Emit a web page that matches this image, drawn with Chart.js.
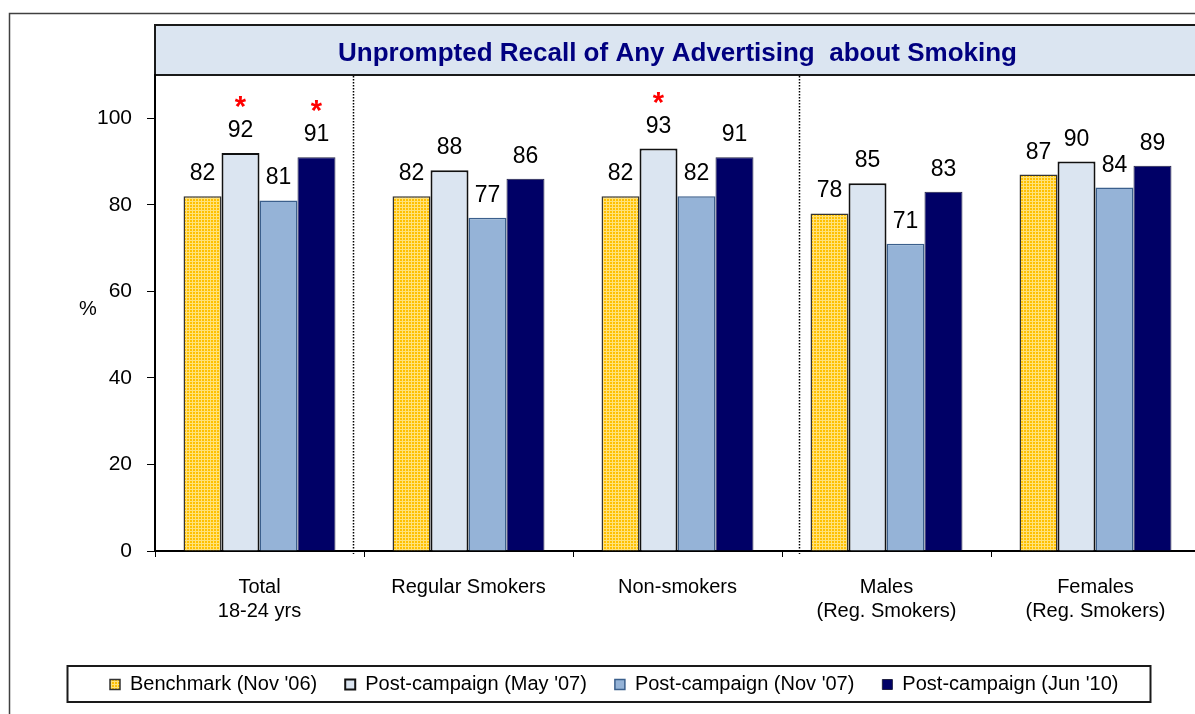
<!DOCTYPE html>
<html>
<head>
<meta charset="utf-8">
<title>Unprompted Recall of Any Advertising about Smoking</title>
<script src="https://cdn.jsdelivr.net/npm/chart.js@4.4.0/dist/chart.umd.min.js"></script>
<style>
    html, body { margin: 0; padding: 0; background: #fff; overflow: hidden; }
    canvas { display: block; }
</style>
</head>
<body>
<canvas id="recallChart" width="1215" height="714"></canvas>
<script>
// --- data ---
const categories = [
    ['Total', '18-24 yrs'],
    'Regular Smokers',
    'Non-smokers',
    ['Males', '(Reg. Smokers)'],
    ['Females', '(Reg. Smokers)']
];
const seriesNames = ["Benchmark (Nov '06)", "Post-campaign (May '07)", "Post-campaign (Nov '07)", "Post-campaign (Jun '10)"];
const benchmarkNov06 = [82, 82, 82, 78, 87];
const postMay07 = [92, 88, 93, 85, 90];
const postNov07 = [81, 77, 82, 71, 84];
const postJun10 = [91, 86, 91, 83, 89];
// significant change flags (red asterisk over the bar)
const sigMay07 = [true, false, true, false, false];
const sigJun10 = [true, false, false, false, false];
const yTicks = [0, 20, 40, 60, 80, 100];
const yMax = 110;

const FONT = '"Liberation Sans", Arial, sans-serif';
const TITLE = 'Unprompted Recall of Any Advertising  about Smoking';

// dotted group separators, in category widths from the y axis
const separatorAt = [0.947, 3.08];

Chart.defaults.font.family = FONT;
Chart.defaults.color = '#000';

// yellow cross-hatch fill for the benchmark bars
function hatchPattern() {
    const c = document.createElement('canvas');
    c.width = 3; c.height = 3;
    const g = c.getContext('2d');
    g.fillStyle = '#ffc000';
    g.fillRect(0, 0, 3, 3);
    g.fillStyle = '#ffe27a';
    g.fillRect(0, 0, 3, 1);
    g.fillRect(0, 0, 1, 3);
    return document.getElementById('recallChart').getContext('2d').createPattern(c, 'repeat');
}

const sigFlags = [null, sigMay07, null, sigJun10];

// title band, outer frame
const framePlugin = {
    id: 'frame',
    beforeDraw(chart) {
        const { ctx, chartArea } = chart;
        ctx.save();
        ctx.strokeStyle = '#404040';
        ctx.lineWidth = 1.5;
        ctx.strokeRect(9.5, 13.5, chart.width + 20, chart.height + 20);

        const top = 25;
        ctx.fillStyle = '#dbe5f1';
        ctx.fillRect(chartArea.left, top, chart.width, chartArea.top - top);
        ctx.strokeStyle = '#1a1a1a';
        ctx.lineWidth = 2;
        ctx.strokeRect(chartArea.left, top, chart.width, chartArea.top - top);
        ctx.restore();
    },
    afterLayout(chart) {
        // nudge legend row so it starts where the boxed legend sits
        const lg = chart.legend;
        if (!lg || !lg.lineWidths) return;
        const start = (lg.left + lg.options.labels.padding + lg.right - lg.lineWidths[0]) / 2;
        const d = 110 - start;
        lg.left += d;
        lg.right += d;
    },
    afterDraw(chart) {
        const { ctx, chartArea, scales } = chart;
        ctx.save();

        // title
        ctx.font = `bold 26px ${FONT}`;
        ctx.fillStyle = '#000080';
        ctx.textAlign = 'center';
        ctx.textBaseline = 'alphabetic';
        ctx.fillText(TITLE, (chartArea.left + chartArea.right) / 2, 61);

        // y unit
        ctx.font = `20px ${FONT}`;
        ctx.fillStyle = '#000';
        ctx.fillText('%', 88, 315);

        // dotted separators
        const xs = scales.x;
        const catW = xs.width / categories.length;
        ctx.strokeStyle = '#000';
        ctx.lineWidth = 1.5;
        ctx.setLineDash([1.5, 1.5]);
        separatorAt.forEach(f => {
            const x = Math.round(xs.left + f * catW) + 0.5;
            ctx.beginPath();
            ctx.moveTo(x, chartArea.top + 1);
            ctx.lineTo(x, chartArea.bottom + 3);
            ctx.stroke();
        });
        ctx.setLineDash([]);

        // legend frame
        const hb = chart.legend.legendHitBoxes;
        if (hb && hb.length) {
            const first = hb[0];
            const last = hb[hb.length - 1];
            const cy = first.top + first.height / 2;
            const l = Math.round(first.left - 43) + 0.5;
            const r = Math.round(last.left + last.width + 31) + 0.5;
            ctx.strokeStyle = '#1a1a1a';
            ctx.lineWidth = 2;
            ctx.strokeRect(l, Math.round(cy - 19), r - l, 36);
        }
        ctx.restore();
    }
};

// value labels and significance asterisks above bars
const labelPlugin = {
    id: 'valueLabels',
    afterDatasetsDraw(chart) {
        const ctx = chart.ctx;
        ctx.save();
        ctx.textAlign = 'center';
        ctx.textBaseline = 'alphabetic';
        chart.data.datasets.forEach((ds, i) => {
            const meta = chart.getDatasetMeta(i);
            meta.data.forEach((bar, j) => {
                ctx.font = `23px ${FONT}`;
                ctx.fillStyle = '#000';
                ctx.fillText(String(ds.data[j]), bar.x, bar.y - 16);
                if (sigFlags[i] && sigFlags[i][j]) {
                    ctx.font = `bold 29px ${FONT}`;
                    ctx.fillStyle = '#ff0000';
                    ctx.fillText('*', bar.x, bar.y - 37);
                }
            });
        });
        ctx.restore();
    }
};

const ctx = document.getElementById('recallChart').getContext('2d');
new Chart(ctx, {
    type: 'bar',
    data: {
        labels: categories,
        datasets: [{
            label: seriesNames[0],
            data: benchmarkNov06,
            backgroundColor: hatchPattern(),
            borderColor: '#333333',
            borderWidth: 1.5
        }, {
            label: seriesNames[1],
            data: postMay07,
            backgroundColor: '#dbe5f1',
            borderColor: '#111111',
            borderWidth: 2
        }, {
            label: seriesNames[2],
            data: postNov07,
            backgroundColor: '#95b3d7',
            borderColor: '#3b5f8c',
            borderWidth: 1.5
        }, {
            label: seriesNames[3],
            data: postJun10,
            backgroundColor: '#000066',
            borderColor: '#222244',
            borderWidth: 1
        }]
    },
    options: {
        responsive: false,
        animation: false,
        devicePixelRatio: 1,
        layout: {
            padding: { top: 75, right: 15, left: 0, bottom: 9.5 }
        },
        datasets: {
            bar: {
                categoryPercentage: 0.727,
                barPercentage: 1
            }
        },
        scales: {
            x: {
                afterFit(scale) { scale.height = 95.5; },
                grid: {
                    offset: true,
                    drawOnChartArea: false,
                    tickLength: 6,
                    color: '#000'
                },
                border: { display: true, color: '#000', width: 2 },
                ticks: {
                    font: { size: 20 },
                    color: '#000',
                    padding: 18,
                    maxRotation: 0
                }
            },
            y: {
                min: 0,
                max: yMax,
                afterFit(scale) { scale.width = 155; },
                afterBuildTicks(scale) { scale.ticks = yTicks.map(v => ({ value: v })); },
                grid: {
                    drawOnChartArea: false,
                    tickLength: 8,
                    color: '#000'
                },
                border: { display: true, color: '#000', width: 2 },
                ticks: {
                    font: { size: 21 },
                    color: '#000',
                    padding: 15
                }
            }
        },
        plugins: {
            legend: {
                position: 'bottom',
                labels: {
                    font: { size: 20 },
                    color: '#000',
                    boxWidth: 10,
                    boxHeight: 10,
                    padding: 28
                }
            },
            title: { display: false },
            tooltip: { enabled: false }
        }
    },
    plugins: [framePlugin, labelPlugin]
});
</script>
</body>
</html>
